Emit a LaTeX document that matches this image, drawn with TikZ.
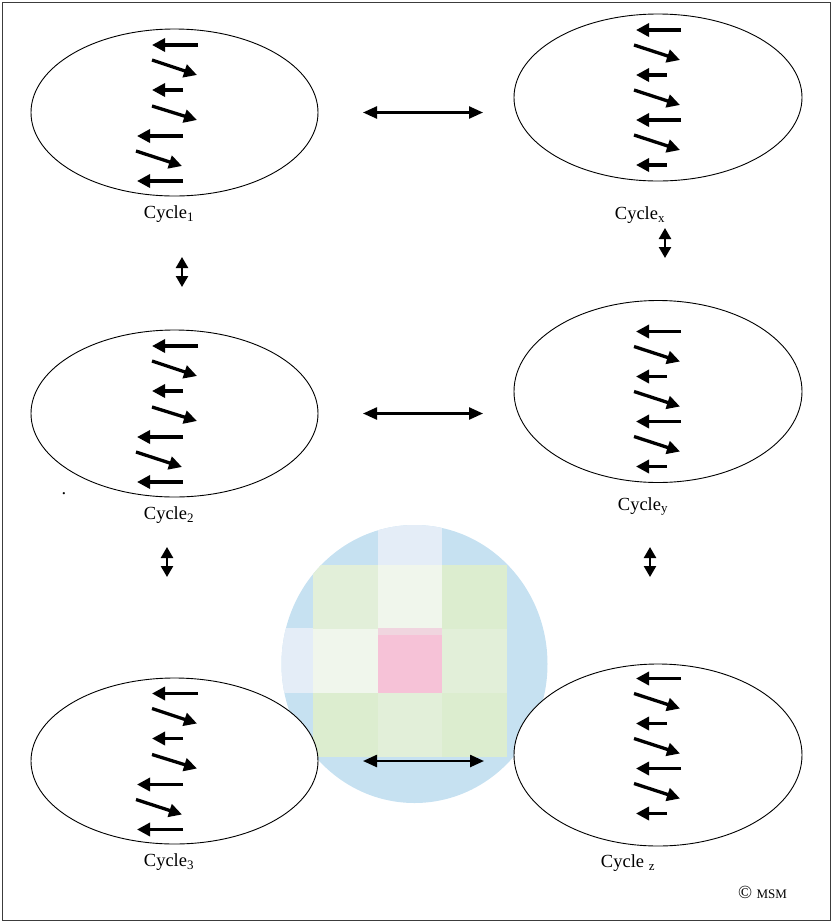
\documentclass[tikz,border=0pt]{standalone}
\usepackage{fontspec}
\setmainfont{Liberation Serif}
\usetikzlibrary{arrows.meta,shapes.geometric,positioning}

\definecolor{pixblue}{HTML}{C6E1F1}
\definecolor{pixlav}{HTML}{E4EDF7}
\definecolor{pixgreen}{HTML}{E2EFD9}
\definecolor{pixgreenb}{HTML}{DCEDCF}
\definecolor{pixpale}{HTML}{F0F6EC}
\definecolor{pixpink}{HTML}{F6C2D7}
\definecolor{pixrose}{HTML}{F0D5DF}
\definecolor{framegray}{HTML}{3C3C3C}

\begin{document}
\begin{tikzpicture}[x=1pt,y=-1pt,every node/.style={outer sep=0pt},
    cycle/.style={draw,ellipse,fill=white,line width=0.9pt,minimum width=287pt,
    minimum height=167pt,inner sep=0pt},
    tall/.style={minimum width=288pt,minimum height=182pt},
    lbl/.style={inner sep=0pt,font=\fontsize{18.5}{20}\selectfont},
    link/.style={line width=2.4pt,{Triangle[length=14pt,width=12pt]}-{Triangle[length=14pt,width=12pt]}},
    vlink/.style={line width=2.4pt,{Triangle[length=11pt,width=12pt]}-{Triangle[length=11pt,width=12pt]}},
    spin/.style={line width=3.3pt,-{Triangle[length=13pt,width=13pt]}},
    spinsL/.pic={\draw[spin] (23.5,-67.5) -- (-22.5,-67.5);
    \draw[spin] (-22.5,-52.5) -- (22.5,-37.5);
    \draw[spin] (8.5,-22.5) -- (-22.5,-22.5);
    \draw[spin] (-22.5,-6.5) -- (22.5,7.5);
    \draw[spin] (8.5,23.5) -- (-37.5,23.5);
    \draw[spin] (-38.5,38.5) -- (7.5,53.5);
    \draw[spin] (8.5,68.5) -- (-37.5,68.5);},
    spinsR/.pic={\draw[spin] (22.5,-67.5) -- (-22.5,-67.5);
    \draw[spin] (-24.5,-52.5) -- (21.5,-37.5);
    \draw[spin] (8.5,-22.5) -- (-22.5,-22.5);
    \draw[spin] (-24.5,-7.5) -- (21.5,7.5);
    \draw[spin] (22.5,22.5) -- (-22.5,22.5);
    \draw[spin] (-24.5,37.5) -- (21.5,52.5);
    \draw[spin] (8.5,67.5) -- (-22.5,67.5);}]

    \useasboundingbox (0,0) rectangle (832,922);
    \draw[framegray,line width=1pt] (2,2) rectangle (830,920);

    % pixelated badge behind the bottom row
    \begin{scope}
        \clip (414.5,664) ellipse [x radius=133,y radius=139];
        \fill[pixblue] (280,520) rectangle (550,806);
        \fill[pixlav] (378,520) rectangle (442,565);
        \fill[pixlav] (278,628) rectangle (313,693);
        \foreach \col/\row/\clr in {0/0/pixgreen,1/0/pixpale,2/0/pixgreenb,
            0/1/pixpale,1/1/pixpink,2/1/pixgreen,
            0/2/pixgreenb,1/2/pixgreen,2/2/pixgreenb}
        {
            \fill[\clr] ({313+64.7*\col},{565+64*\row}) rectangle ++(64.7,64);
        }
        \fill[pixrose] (378,628) rectangle (442,635);
    \end{scope}

     \node[cycle] (c1) at (174.5,112.5) {};
     \node[cycle] (c2) at (174.5,413.5) {};
     \node[cycle,minimum height=166pt] (c3) at (174.5,761) {};
     \node[cycle,minimum width=288pt] (cx) at (658,97.5) {};
     \node[cycle,tall] (cy) at (658,391.5) {};
     \node[cycle,tall] (cz) at (658,755) {};

     \pic at (c1.center) {spinsL};
     \pic at (c2.center) {spinsL};
     \pic at (c3.center) {spinsL};
     \pic at ([xshift=0.5pt]cx.center) {spinsR};
     \pic at ([xshift=0.5pt,yshift=-7.5pt]cy.center) {spinsR};
     \pic at ([xshift=0.5pt,yshift=9pt]cz.center) {spinsR};

     \node[lbl,below=10pt of c1,xshift=-5.5pt] (l1) {Cycle\textsubscript{1}};
     \node[lbl,below=10pt of c2,xshift=-5.5pt] (l2) {Cycle\textsubscript{2}};
     \node[lbl,below=10pt of c3,xshift=-5.5pt] (l3) {Cycle\textsubscript{3}};
     \node[lbl,below=26pt of cx,xshift=-18pt] (lx) {Cycle\textsubscript{x}};
     \node[lbl,below=15pt of cy,xshift=-15pt] (ly) {Cycle\textsubscript{y}};
     \node[lbl,below=9pt of cz,xshift=-30pt] (lz) {Cycle \textsubscript{z}};
     \node[lbl] (dot) at (64,494) {.};
     \node[lbl,anchor=base west] (msm) at (738,898) {©
     {\fontsize{13}{14}\selectfont MSM}};

     \draw[link] ([xshift=45pt]c1.east) -- ([xshift=-31pt]c1.east -| cx.west);
     \draw[link] ([xshift=45pt]c2.east) -- ([xshift=-31pt]c2.east -| cy.west);
     \draw[link] ([xshift=45pt]c3.east) -- ([xshift=-30pt]c3.east -| cz.west);

    \foreach \X/\x/\y in {1/182/257,x/665/228,2/167/547,y/650/547}
    {
        \coordinate (top\X) at (\x,\y);
        \coordinate (bot\X) at (\x,\y+30);
        \draw[vlink] (top\X) -- (bot\X);
    }
\end{tikzpicture}
\end{document}
